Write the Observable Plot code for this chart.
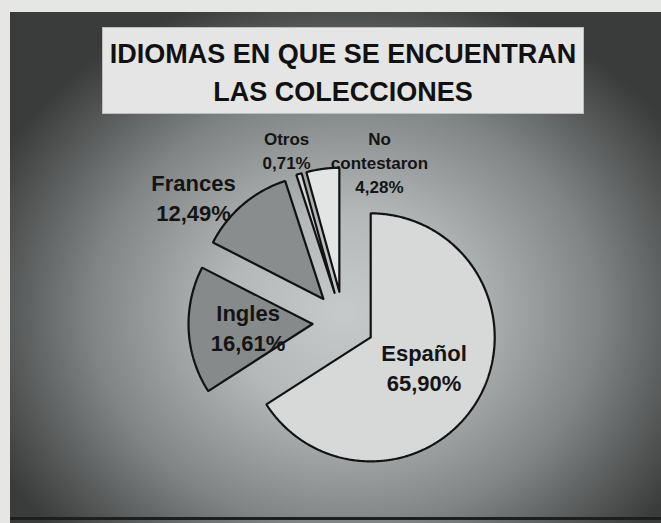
<!DOCTYPE html>
<html>
<head>
<meta charset="utf-8">
<script src="https://cdn.jsdelivr.net/npm/d3@7"></script>
<script src="https://cdn.jsdelivr.net/npm/@observablehq/plot@0.6"></script>
<style>
  html, body { margin: 0; padding: 0; background: #e6e7e5; }
  #wrap { position: relative; width: 661px; height: 523px; overflow: hidden; background: #e6e7e5; }
  #bg { position: absolute; left: 10px; top: 12px; right: 0; bottom: 0;
        background: radial-gradient(ellipse 390px 330px at 335px 300px, #c6caca 0%, #b4b8b8 30%, #808484 65%, #3a3b3b 100%); }
  #bg::after { content: ""; position: absolute; left: 0; right: 0; bottom: 3px; height: 3px; background: #1e1e1e; }
  #title { position: absolute; left: 103px; top: 28px; width: 480px; height: 85px;
           background: #e4e5e4; box-shadow: 0 0 0 1px #bdbdbd;
           font-family: "Liberation Sans", Arial, sans-serif; font-weight: bold; font-size: 27px;
           line-height: 38px; text-align: center; color: #111; padding-top: 7px; box-sizing: border-box; }
  #chart { position: absolute; left: 0; top: 0; }
  #chart svg { background: transparent !important; }
</style>
</head>
<body>
<div id="wrap">
  <div id="bg"></div>
  <div id="title">IDIOMAS EN QUE SE ENCUENTRAN<br>LAS COLECCIONES</div>
  <div id="chart"></div>
</div>
<script>
// ---- data ----
const categories = ["Español", "Ingles", "Frances", "Otros", "No contestaron"];
const percents = [65.90, 16.61, 12.49, 0.71, 4.28];
const labelNames = ["Español", "Ingles", "Frances", "Otros", "No\ncontestaron"];

// ---- styles / layout (kept separate from the data) ----
const fills = ["#d7d9d9", "#878a8a", "#8a8d8d", "#d2d4d4", "#e3e5e5"];
const explode = 0.25; // in pie radii
const labelLayout = {
  "Español":        {r: 0.74, shift: 0,     size: "big"},
  "Ingles":         {r: 0.77, shift: 0.5,   size: "big"},
  "Frances":        {r: 1.58, shift: -9.5,  size: "big"},
  "Otros":          {r: 1.47, shift: -1.5,  size: "small"},
  "No contestaron": {r: 1.33, shift: 20.3,  size: "small"}
};

const rows = categories.map((c, i) => ({name: c, value: percents[i], label: labelNames[i]}));
const arcs = d3.pie().sort(null).value(d => d.value)(rows);

const fmt = v => v.toFixed(2).replace(".", ",") + "%";

// polygon outline of each exploded slice (unit radius, y up)
const pts = [];
for (const a of arcs) {
  const mid = (a.startAngle + a.endAngle) / 2;
  const ox = explode * Math.sin(mid), oy = explode * Math.cos(mid);
  pts.push({name: a.data.name, x: ox, y: oy});
  const n = Math.max(2, Math.ceil((a.endAngle - a.startAngle) / (Math.PI / 360)));
  for (let k = 0; k <= n; k++) {
    const t = a.startAngle + (a.endAngle - a.startAngle) * k / n;
    pts.push({name: a.data.name, x: ox + Math.sin(t), y: oy + Math.cos(t)});
  }
  pts.push({name: a.data.name, x: ox, y: oy});
}

const labels = arcs.map(a => {
  const L = labelLayout[a.data.name];
  const mid = (a.startAngle + a.endAngle) / 2 + L.shift * Math.PI / 180;
  return {
    name: a.data.name, size: L.size,
    x: L.r * Math.sin(mid), y: L.r * Math.cos(mid),
    text: a.data.label + "\n" + fmt(a.data.value)
  };
});

const cx = 343, cy = 322, R = 124;
const chart = Plot.plot({
  width: 661, height: 523,
  margin: 0,
  style: {background: "transparent", overflow: "visible"},
  x: {domain: [-1, 1], range: [cx - R, cx + R], axis: null},
  y: {domain: [-1, 1], range: [cy + R, cy - R], axis: null},
  color: {domain: categories, range: fills},
  marks: [
    Plot.line(pts, {x: "x", y: "y", z: "name", fill: "name", stroke: "#121212",
                    strokeWidth: 2.2, strokeLinejoin: "miter", curve: "linear"}),
    Plot.text(labels.filter(d => d.size === "big"), {
      x: "x", y: "y", text: "text", fontSize: 22, lineHeight: 1.38, fontWeight: "bold",
      fill: "#141414", fontFamily: "Liberation Sans, Arial, sans-serif"
    }),
    Plot.text(labels.filter(d => d.size === "small"), {
      x: "x", y: "y", text: "text", fontSize: 17, lineHeight: 1.42, fontWeight: "bold",
      fill: "#141414", fontFamily: "Liberation Sans, Arial, sans-serif"
    })
  ]
});
document.getElementById("chart").appendChild(chart);
</script>
</body>
</html>
